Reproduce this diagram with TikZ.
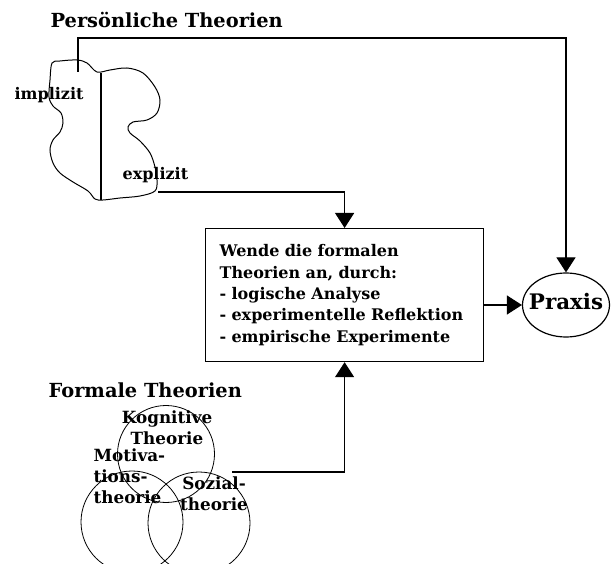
\documentclass[tikz,border=0pt]{standalone}
\usepackage{fontspec}
\setmainfont{DejaVu Serif}
\usetikzlibrary{arrows.meta,shapes.geometric}

\begin{document}
\begin{tikzpicture}[x=1pt, y=-1pt, line width=1.2pt,
	arr/.style={-{Triangle[width=19pt,length=15pt]}},
	titel/.style={font=\bfseries\fontsize{19.4}{23}\selectfont, inner sep=0},
	lbl/.style={font=\bfseries\fontsize{16}{21.3}\selectfont, inner sep=0},
	kreis/.style={font=\bfseries\fontsize{16.8}{21}\selectfont, inner sep=0}]
	\useasboundingbox (0,0) rectangle (611,564);

	% Persoenliche Theorien
	\node[titel, anchor=base west] (ptitel) at (50,28) {Persönliche Theorien};
	\draw[line width=1pt] plot[smooth cycle, tension=0.55] coordinates {
		(52,63) (60,61) (77,60) (87,63) (97,72) (110,70) (127,68) (143,73)
		(155,87) (160,100) (157,113) (147,120) (133,122) (128,127) (130,133)
		(140,141) (150,153) (155,167) (157,180) (155,191) (140,196) (120,198)
		(103,200) (95,199) (88,191) (73,182) (60,173) (53,163) (50,150)
		(53,140) (60,132) (63,123) (61,113) (53,106) (49,97) (50,80)};
	\draw[line width=2pt] (101,73) -- (101,200);
	\node[lbl, anchor=base west] (impl) at (14,100) {implizit};
	\node[lbl, anchor=base west] (expl) at (122,180) {explizit};
	\coordinate (implend) at (78,72);
	\coordinate (explend) at (158,192);
	\coordinate (oben) at (0,38);

	% Box in the middle
	\node[draw, lbl, align=left, text width=250pt, inner xsep=14pt,
		minimum height=133pt, anchor=north west] (box) at (205,228)
		{Wende die formalen\\Theorien an, durch:\\- logische Analyse\\- experimentelle Reflektion\\- empirische Experimente};

	% Praxis
	\node[draw, ellipse, minimum width=87pt, minimum height=64pt] (praxis) at (566,305) {};
	\node[font=\bfseries\fontsize{21.4}{25}\selectfont, inner sep=0, anchor=base] (praxistext) at (566,310) {Praxis};

	% Formale Theorien
	\node[titel, anchor=base west] (ftitel) at (48,397) {Formale Theorien};
	\node[draw, circle, line width=0.8pt, minimum size=97pt, inner sep=0] (kog) at (166,454) {};
	\node[draw, circle, line width=0.8pt, minimum size=102pt, inner sep=0] (mot) at (132,522) {};
	\node[draw, circle, line width=0.8pt, minimum size=102pt, inner sep=0] (soz) at (199,523) {};
	\node[kreis, align=center, anchor=base] (kogtext) at (167,444) {Kognitive\\Theorie};
	\node[kreis, align=left, anchor=base west] (mottext) at (93,503) {Motiva-\\tions-\\theorie};
	\node[kreis, align=center, anchor=base] (soztext) at (214,510) {Sozial-\\theorie};
	\coordinate (formend) at (232,472);

	% Connectors
	\draw[arr] (implend) -- (implend |- oben) -| (praxis.north);
	\draw[arr] (explend) -| (box.north);
	\draw[arr] (box.east |- praxis.west) -- (praxis.west);
	\draw[arr] (formend) -| (box.south);
\end{tikzpicture}
\end{document}
